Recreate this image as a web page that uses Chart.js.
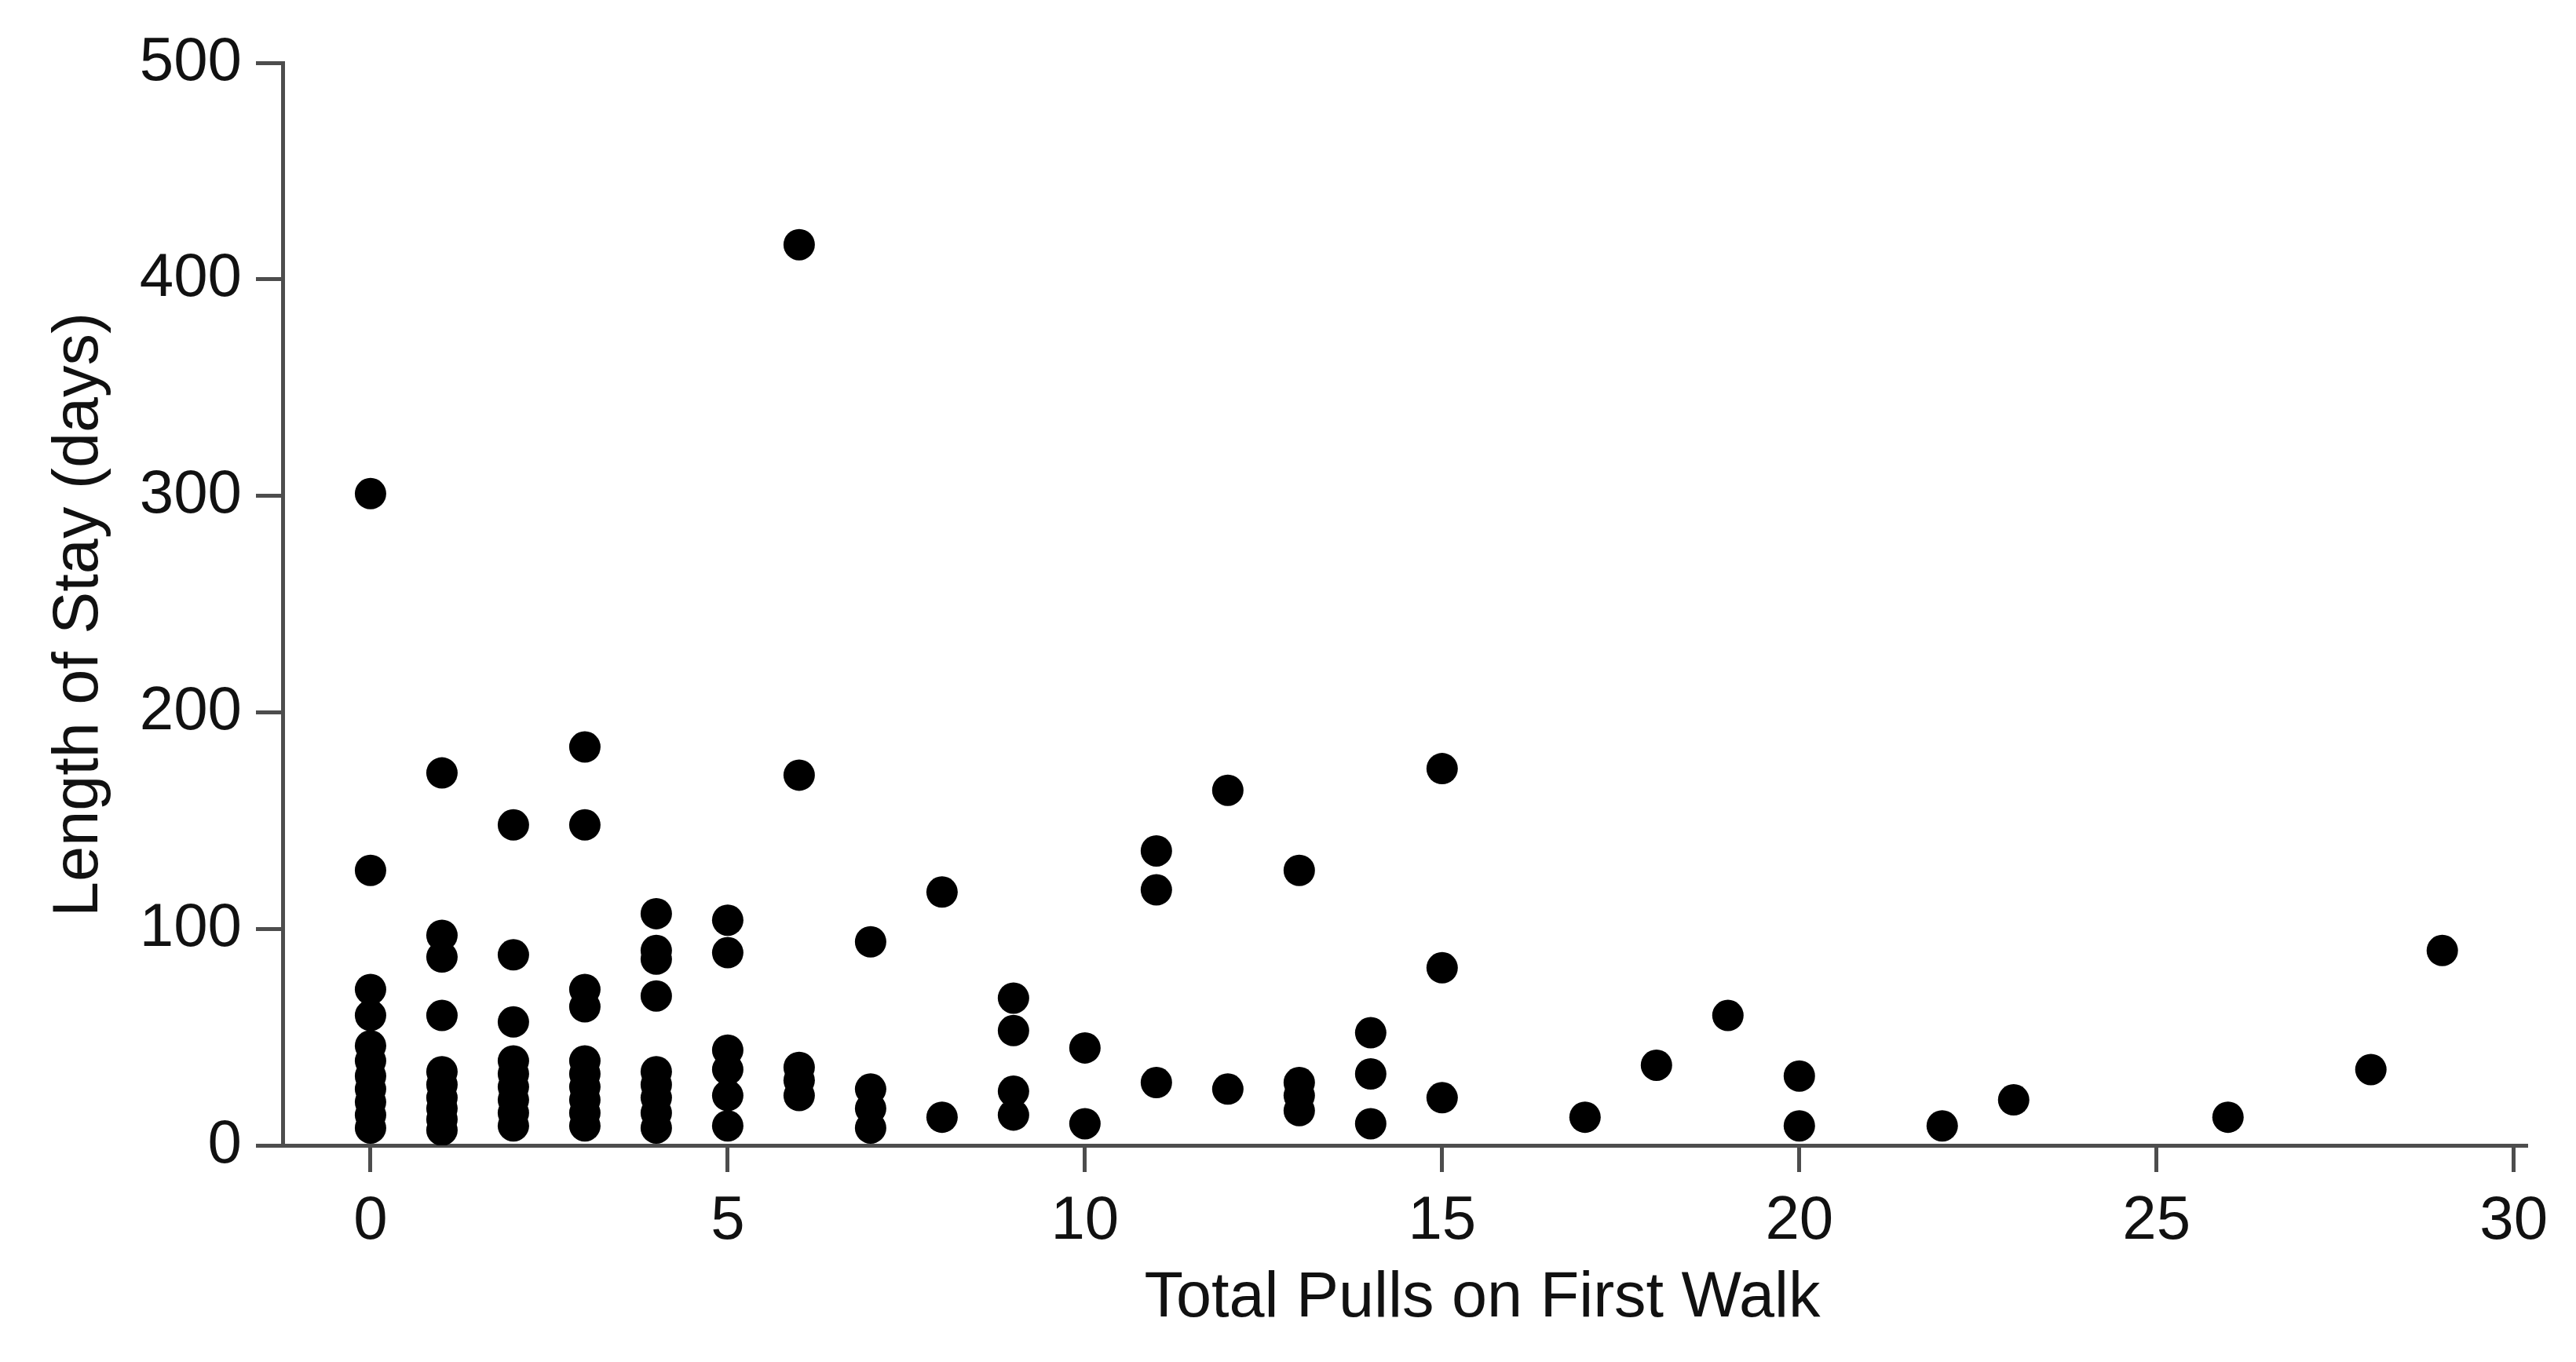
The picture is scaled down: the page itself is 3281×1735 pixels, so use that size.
<!DOCTYPE html>
<html lang="en">
<head>
    <meta charset="UTF-8">
    <title>Length of Stay vs Total Pulls on First Walk</title>
    <script src="https://cdn.jsdelivr.net/npm/chart.js"></script>
    <style>
        html, body { margin: 0; padding: 0; background: #ffffff; }
        #stayChart { display: block; }
    </style>
</head>
<body>
<canvas id="stayChart" width="3281" height="1735"></canvas>

<script>
// x: total pulls on first walk, y: length of stay (days)
const pulls = [
    0, 0, 0, 0, 0, 0, 0, 0, 0, 0, 0,
    1, 1, 1, 1, 1, 1, 1, 1, 1, 1,
    2, 2, 2, 2, 2, 2, 2, 2, 2,
    3, 3, 3, 3, 3, 3, 3, 3, 3, 3,
    4, 4, 4, 4, 4, 4, 4, 4, 4,
    5, 5, 5, 5, 5, 5,
    6, 6, 6, 6, 6,
    7, 7, 7, 7,
    8, 8,
    9, 9, 9, 9,
    10, 10,
    11, 11, 11,
    12, 12,
    13, 13, 13, 13,
    14, 14, 14,
    15, 15, 15,
    17, 18, 19, 20, 20, 22, 23, 26, 28, 29
];
const stayDays = [
    301, 127, 72, 60, 46, 39, 32, 26, 20, 14, 8,
    172, 97, 87, 60, 34, 28, 22, 17, 12, 7,
    148, 88, 57, 39, 33, 27, 21, 15, 9,
    184, 148, 72, 64, 39, 33, 27, 21, 15, 9,
    107, 90, 86, 69, 34, 28, 22, 15, 8,
    104, 89, 44, 35, 23, 9,
    416, 171, 36, 30, 23,
    94, 26, 17, 8,
    117, 13,
    68, 53, 25, 14,
    45, 10,
    136, 118, 29,
    164, 26,
    127, 29, 23, 16,
    52, 33, 10,
    174, 82, 22,
    13, 37, 60, 32, 9, 9, 21, 13, 35, 90
];

const xTicks = [0, 5, 10, 15, 20, 25, 30];
const yTicks = [0, 100, 200, 300, 400, 500];

const xTitle = 'Total Pulls on First Walk';
const yTitle = 'Length of Stay (days)';

let points = [];
for (let i = 0; i < pulls.length; i++) {
    points.push({x: pulls[i], y: stayDays[i]});
}

const axisColor = '#4d4d4d';
const fontFamily = "'Liberation Sans', Arial, sans-serif";
const tickFont = { family: fontFamily, size: 78, lineHeight: 1 };

// axis titles sit a little off-centre in the original, so draw them here
const axisTitles = {
    id: 'axisTitles',
    afterDraw(chart) {
        const c = chart.ctx;
        c.save();
        c.fillStyle = '#111111';
        c.font = '81px ' + fontFamily;
        c.textAlign = 'center';
        c.textBaseline = 'alphabetic';
        c.fillText(xTitle, 1888, 1677);
        c.translate(124, 783);
        c.rotate(-Math.PI / 2);
        c.fillText(yTitle, 0, 0);
        c.restore();
    }
};

const ctx = document.getElementById('stayChart').getContext('2d');
new Chart(ctx, {
    type: 'scatter',
    data: {
        datasets: [{
            label: 'Length of Stay',
            data: points,
            pointRadius: 20,
            pointHoverRadius: 20,
            pointBackgroundColor: '#000000',
            pointBorderWidth: 0,
            showLine: false
        }]
    },
    plugins: [axisTitles],
    options: {
        responsive: false,
        animation: false,
        devicePixelRatio: 1,
        layout: { padding: { left: 0, top: 80, right: 62, bottom: 0 } },
        plugins: {
            legend: { display: false },
            tooltip: { enabled: false }
        },
        scales: {
            x: {
                type: 'linear',
                min: -1.23,
                max: 30.19,
                afterBuildTicks: axis => { axis.ticks = xTicks.map(v => ({value: v})); },
                afterFit: axis => { axis.height = 276; },
                ticks: {
                    color: '#111111',
                    font: tickFont,
                    padding: 24,
                    maxRotation: 0,
                    callback: v => String(v)
                },
                grid: {
                    drawOnChartArea: false,
                    drawTicks: true,
                    tickLength: 34,
                    tickWidth: 5,
                    tickColor: axisColor
                },
                border: { display: true, color: axisColor, width: 5 }
            },
            y: {
                type: 'linear',
                min: 0,
                max: 500,
                afterBuildTicks: axis => { axis.ticks = yTicks.map(v => ({value: v})); },
                afterFit: axis => { axis.width = 360; },
                ticks: {
                    color: '#111111',
                    font: tickFont,
                    padding: 18,
                    callback: v => String(v)
                },
                grid: {
                    drawOnChartArea: false,
                    drawTicks: true,
                    tickLength: 34,
                    tickWidth: 5,
                    tickColor: axisColor
                },
                border: { display: true, color: axisColor, width: 5 }
            }
        }
    }
});
</script>
</body>
</html>
